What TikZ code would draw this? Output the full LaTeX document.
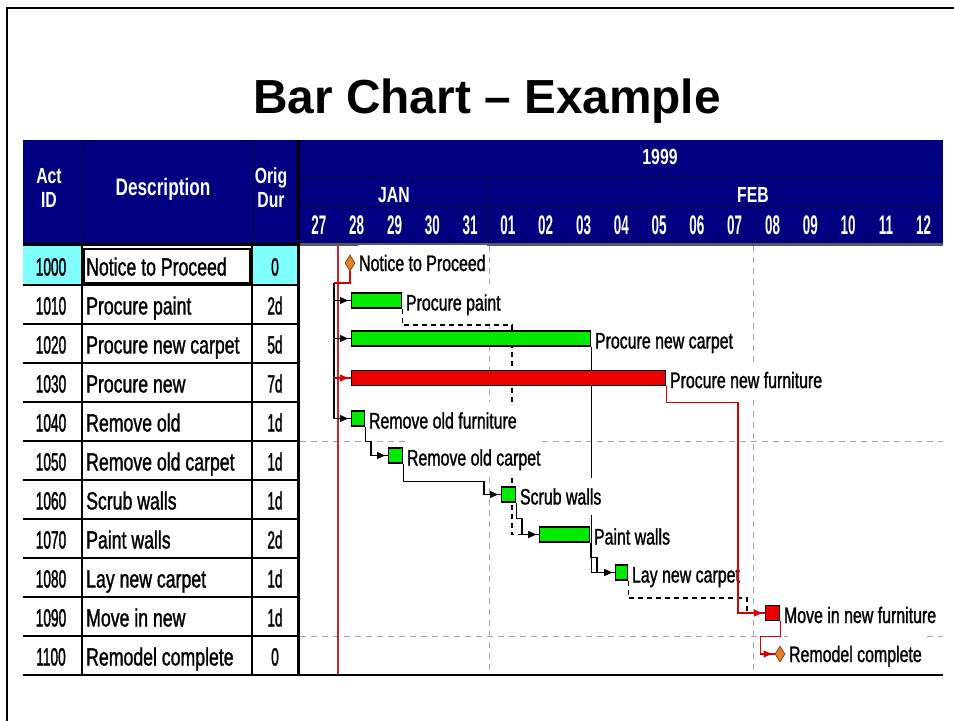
\documentclass[tikz,border=0pt]{standalone}
\usepackage{fontspec}
\setmainfont{Liberation Sans}
\newfontfamily\txtfont[FakeStretch=0.71,FakeBold=1.2]{Liberation Sans}
\newfontfamily\numfont[FakeStretch=0.55,FakeBold=1.2]{Liberation Sans}
\newfontfamily\hdrfont[FakeStretch=0.72]{Liberation Sans}
\newfontfamily\dayfont[FakeStretch=0.5]{Liberation Sans}
\usetikzlibrary{arrows.meta,shapes.geometric,decorations.markings}

\definecolor{hdrblue}{RGB}{0,0,128}
\definecolor{hdrrule}{RGB}{0,0,60}
\definecolor{rowcyan}{RGB}{128,255,255}
\definecolor{bargreen}{RGB}{0,235,0}
\definecolor{barred}{RGB}{235,0,0}
\definecolor{msorange}{RGB}{232,128,40}
\definecolor{gridgray}{RGB}{165,165,165}
\definecolor{datered}{RGB}{205,40,40}
\definecolor{critred}{RGB}{215,0,0}

\pgfdeclarelayer{grid}
\pgfdeclarelayer{links}
\pgfsetlayers{grid,links,main}

\tikzset{
  numcell/.style={inner sep=0, text height=18bp, text depth=0pt, font={\numfont\fontsize{25}{28}\selectfont}},
  desccell/.style={numcell, anchor=west, font={\txtfont\fontsize{25}{28}\selectfont}},
  hdrtext/.style={inner sep=0, text=white, align=center, font={\hdrfont\bfseries\fontsize{22}{24}\selectfont}},
  daytext/.style={inner sep=0, text=white, text height=19bp, text depth=0pt, font={\dayfont\bfseries\fontsize{27}{28}\selectfont}},
  bartask/.style={draw=black, line width=1.3bp, fill=bargreen, minimum height=15bp, inner sep=0, anchor=west},
  crittask/.style={bartask, fill=barred},
  milestone/.style={diamond, draw=msorange!55!black, line width=0.8bp, fill=msorange, minimum width=10bp, minimum height=16bp, inner sep=0},
  tasklabel/.style={anchor=west, fill=white, inner xsep=1.5bp, inner ysep=0, minimum height=37bp, text height=16bp, text depth=0pt, font={\txtfont\fontsize{22.5}{24}\selectfont}},
  barlabel/.style={tasklabel, yshift=-2bp},
  gridline/.style={gridgray, line width=1bp, dash pattern=on 6bp off 5bp},
  link/.style={black, line width=1.1bp},
  critlink/.style={critred, line width=1.1bp},
  linkdash/.style={link, dash pattern=on 5bp off 4bp},
  tip/.style={postaction={decorate}, decoration={markings, mark=at position -3bp with {\arrow{Triangle[length=8bp,width=7bp]}}}},
}

\begin{document}
\begin{tikzpicture}[x=1bp,y=-1bp]
\useasboundingbox (0,0) rectangle (954,721);

% slide frame and title
\draw[line width=2.5bp] (7,721) -- (7,8) -- (954,8);
\node[anchor=base, inner sep=0, font={\bfseries\fontsize{48}{52}\selectfont}] (title) at (487,114) {Bar Chart – Example};

\begin{pgfonlayer}{grid}
  % header band
  \fill[hdrblue] (23,140) rectangle (943,243);
  \draw[hdrrule, line width=1bp] (82,140) -- (82,243) (252,140) -- (252,243);
  \draw[hdrrule, line width=1bp] (300,177) -- (943,177) (300,207) -- (943,207) (489,177) -- (489,243);
  \foreach \k in {1,...,16} \draw[hdrrule, line width=1bp] ({300+37.8*\k},235) -- ({300+37.8*\k},243);
  % strip under the header
  \fill[black] (23,243) rectangle (297,246);
  \fill[gray!70!black] (300,243) rectangle (943,246);
  % highlighted first row
  \fill[rowcyan] (23,246) rectangle (82,285) (252,246) rectangle (297,285);
  \draw[line width=2bp, fill=white] (84,248.5) rectangle (249.5,282.5);
  % table rules
  \foreach \i in {1,...,10} \draw[line width=1.5bp] (23,{246+39*\i}) -- (297,{246+39*\i});
  \draw[line width=1.5bp] (82,246) -- (82,675) (252,246) -- (252,675);
  % weekly grid
  \draw[gridline] (489,246) -- (489,675) (753.6,246) -- (753.6,675);
  \draw[gridline] (300,441) -- (943,441) (300,636) -- (943,636);
  % data date
  \draw[datered, line width=2.5bp] (337.8,246) -- (337.8,675);
  % heavy rules
  \draw[line width=3bp] (298.5,140) -- (298.5,675);
  \draw[line width=2.5bp] (23,675) -- (943,675);
\end{pgfonlayer}

% header texts
\node[hdrtext] (hAct) at (49,188) {Act\\ID};
\node[hdrtext, font={\hdrfont\bfseries\fontsize{24}{24}\selectfont}] (hDesc) at (163,189) {Description};
\node[hdrtext] (hDur) at (271,188) {Orig\\Dur};
\node[hdrtext] (hYear) at (660,157) {1999};
\node[hdrtext] (hJan) at (394,195) {JAN};
\node[hdrtext] (hFeb) at (753,195) {FEB};
\foreach \d [count=\k from 0] in {27,28,29,30,31,01,02,03,04,05,06,07,08,09,10,11,12}
  \node[daytext] (day\k) at ({318.9+37.8*\k},225) {\d};

% activity table
\foreach \i/\aid/\desc/\dur in {0/1000/Notice to Proceed/0, 1/1010/Procure paint/2d, 2/1020/Procure new carpet/5d, 3/1030/Procure new/7d, 4/1040/Remove old/1d, 5/1050/Remove old carpet/1d, 6/1060/Scrub walls/1d, 7/1070/Paint walls/2d, 8/1080/Lay new carpet/1d, 9/1090/Move in new/1d, 10/1100/Remodel complete/0} {
  \node[numcell] (id\aid) at (51,{266.5+39*\i}) {\aid};
  \node[desccell] (desc\aid) at (86,{266.5+39*\i}) {\desc};
  \node[numcell] (dur\aid) at (275,{266.5+39*\i}) {\dur};
}

% bars and milestones
\node[milestone] (t1000) at (350,263) {};
\node[bartask, minimum width=50bp] (t1010) at (351,300.5) {};
\node[bartask, minimum width=239bp] (t1020) at (351,338.5) {};
\node[crittask, minimum width=314bp] (t1030) at (351,378) {};
\node[bartask, minimum width=13bp] (t1040) at (351,418.5) {};
\node[bartask, minimum width=14bp] (t1050) at (388,455.5) {};
\node[bartask, minimum width=14bp] (t1060) at (501,494.5) {};
\node[bartask, minimum width=50bp] (t1070) at (539,534.5) {};
\node[bartask, minimum width=12bp] (t1080) at (615,572.5) {};
\node[crittask, minimum width=14bp] (t1090) at (765,613) {};
\node[milestone] (t1100) at (780,654) {};

% bar labels
\node[tasklabel] (l1000) at ([xshift=2bp]t1000.east) {Notice to Proceed};
\node[barlabel] (l1010) at ([xshift=2bp]t1010.east) {Procure paint};
\node[barlabel] (l1020) at ([xshift=2bp]t1020.east) {Procure new carpet};
\node[barlabel] (l1030) at ([xshift=2bp]t1030.east) {Procure new furniture};
\node[barlabel] (l1040) at ([xshift=2bp]t1040.east) {Remove old furniture};
\node[barlabel] (l1050) at ([xshift=2bp]t1050.east) {Remove old carpet};
\node[barlabel] (l1060) at ([xshift=2bp]t1060.east) {Scrub walls};
\node[barlabel] (l1070) at ([xshift=2bp]t1070.east) {Paint walls};
\node[barlabel] (l1080) at ([xshift=2bp]t1080.east) {Lay new carpet};
\node[barlabel] (l1090) at ([xshift=2bp]t1090.east) {Move in new furniture};
\node[tasklabel] (l1100) at ([xshift=2bp]t1100.east) {Remodel complete};

% logic links
\coordinate (trunk) at (334,283);
\coordinate (paintjog) at (512,325);
\coordinate (carpetjog) at (747,598);
\begin{pgfonlayer}{links}
  \draw[link,tip] (trunk) |- (t1010.west);
  \draw[link,tip] (trunk) |- (t1020.west);
  \draw[link,tip] (trunk) |- (t1040.west);
  \draw[linkdash,tip] (t1010.south east) |- (paintjog) |- (t1070.west);
  \draw[link,tip] (t1040.south east) -- ++(0,15) -| ([xshift=-17bp]t1050.west) -- (t1050.west);
  \draw[link,tip] (t1050.south east) -- ++(0,18) -| ([xshift=-17bp]t1060.west) -- (t1060.west);
  \draw[link,tip] (t1060.south east) -- ++(0,16) -| ([xshift=-17bp]t1070.west) -- (t1070.west);
  \draw[link,tip] (t1020.south east) |- (t1080.west);
  \draw[link,tip] (t1070.south east) -- ++(0,15) -| ([xshift=-18bp]t1080.west) -- (t1080.west);
  \draw[linkdash] (t1080.south east) |- (carpetjog) -- (carpetjog |- t1090.west);
\end{pgfonlayer}

% critical path links
\draw[critlink] (t1000.south) |- (trunk);
\draw[critlink,tip] (trunk |- t1030.west) -- (t1030.west);
\draw[critlink,tip] (t1030.south east) -- ++(0,16) -| ([xshift=-27bp]t1090.west) -- (t1090.west);
\draw[critlink,tip] (t1090.south east) -- ++(0,15) -| ([xshift=-14bp]t1100.west) -- (t1100.west);
\end{tikzpicture}
\end{document}
